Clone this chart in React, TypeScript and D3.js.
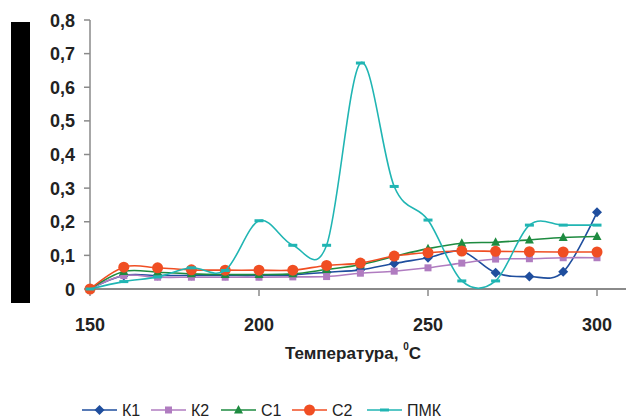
import React from "react";
import * as d3 from "d3";

const temps = [150, 160, 170, 180, 190, 200, 210, 220, 230, 240, 250, 260, 270, 280, 290, 300];
const k1 = [0, 0.04, 0.04, 0.04, 0.04, 0.04, 0.042, 0.05, 0.057, 0.076, 0.093, 0.112, 0.048, 0.037, 0.051, 0.228];
const k2 = [0, 0.04, 0.035, 0.035, 0.035, 0.035, 0.036, 0.037, 0.047, 0.053, 0.063, 0.077, 0.089, 0.09, 0.093, 0.093];
const c1 = [0, 0.052, 0.05, 0.045, 0.043, 0.043, 0.045, 0.058, 0.072, 0.097, 0.12, 0.136, 0.139, 0.146, 0.153, 0.156];
const c2 = [0, 0.065, 0.063, 0.057, 0.056, 0.056, 0.056, 0.07, 0.077, 0.098, 0.108, 0.113, 0.112, 0.111, 0.11, 0.11];
const pmk = [0, 0.022, 0.036, 0.063, 0.055, 0.203, 0.13, 0.13, 0.672, 0.305, 0.205, 0.024, 0.024, 0.19, 0.19, 0.19];

const seriesNames = ["К1", "К2", "С1", "С2", "ПМК"];
const seriesColors = ["#1F4E9E", "#B07CC0", "#1E8B40", "#F04E23", "#20B5B3"];
const seriesMarkers = ["diamond", "square", "triangle", "circle", "dash"];
const seriesValues = [k1, k2, c1, c2, pmk];

const yTicks = [0, 0.1, 0.2, 0.3, 0.4, 0.5, 0.6, 0.7, 0.8];
const xTicks = [150, 200, 250, 300];

const fmt = (v: number) => (v === 0 ? "0" : d3.format(".1f")(v).replace(".", ","));

function Marker({ kind, x, y, color }: { kind: string; x: number; y: number; color: string }) {
  if (kind === "diamond") {
    const s = 5;
    return <path d={`M${x},${y - s}L${x + s},${y}L${x},${y + s}L${x - s},${y}Z`} fill={color} />;
  }
  if (kind === "square") {
    return <rect x={x - 3.5} y={y - 3.5} width={7} height={7} fill={color} />;
  }
  if (kind === "triangle") {
    return <path d={`M${x},${y - 5}L${x + 4.5},${y + 3.5}L${x - 4.5},${y + 3.5}Z`} fill={color} />;
  }
  if (kind === "circle") {
    return <circle cx={x} cy={y} r={5.5} fill={color} />;
  }
  return <rect x={x - 4.5} y={y - 1.5} width={9} height={3} fill={color} />;
}

export default function App() {
  const x = d3.scaleLinear().domain([150, 300]).range([90, 597]);
  const y = d3.scaleLinear().domain([0, 0.8]).range([289, 20]);
  const line = d3
    .line<number>()
    .x((_, i) => x(temps[i]))
    .y((d) => y(d))
    .curve(d3.curveCardinal.tension(0));

  const axisColor = "#8A8A8A";
  const legendX = [82, 151, 221, 292, 367];
  const legendY = 410;

  return (
    <svg
      width={630}
      height={419}
      style={{ position: "absolute", left: 0, top: 0, background: "#fff" }}
      fontFamily="'Liberation Sans', Arial, sans-serif"
    >
      <rect x={0} y={0} width={630} height={419} fill="#fff" />
      <rect x={11} y={22} width={19} height={281} fill="#000" />

      {/* y axis */}
      <line x1={90} x2={90} y1={y(0.8)} y2={y(0)} stroke={axisColor} strokeWidth={1.5} />
      {yTicks.map((t) => (
        <g key={t}>
          <line x1={84} x2={90} y1={y(t)} y2={y(t)} stroke={axisColor} strokeWidth={1.5} />
          <text x={75} y={y(t) + 6.5} textAnchor="end" fontSize={18} fontWeight="bold" fill="#222">
            {fmt(t)}
          </text>
        </g>
      ))}

      {/* x axis */}
      <line x1={90} x2={626} y1={y(0)} y2={y(0)} stroke={axisColor} strokeWidth={2} />
      {xTicks.map((t) => (
        <g key={t}>
          <line x1={x(t)} x2={x(t)} y1={y(0)} y2={y(0) + 7} stroke={axisColor} strokeWidth={1.5} />
          <text x={x(t)} y={331} textAnchor="middle" fontSize={18} fontWeight="bold" fill="#222">
            {t}
          </text>
        </g>
      ))}
      <text x={353} y={359} textAnchor="middle" fontSize={17} fontWeight="bold" fill="#222">
        Температура,{" "}
        <tspan fontSize={10} dy={-9}>
          0
        </tspan>
        <tspan dy={9}>C</tspan>
      </text>

      {/* series */}
      {seriesValues.map((vals, si) => (
        <g key={seriesNames[si]}>
          <path d={line(vals) || ""} fill="none" stroke={seriesColors[si]} strokeWidth={1.6} />
          {vals.map((v, i) => (
            <Marker key={i} kind={seriesMarkers[si]} x={x(temps[i])} y={y(v)} color={seriesColors[si]} />
          ))}
        </g>
      ))}

      {/* legend */}
      {seriesNames.map((name, si) => (
        <g key={name}>
          <line
            x1={legendX[si]}
            x2={legendX[si] + 35}
            y1={legendY}
            y2={legendY}
            stroke={seriesColors[si]}
            strokeWidth={1.6}
          />
          <Marker kind={seriesMarkers[si]} x={legendX[si] + 17.5} y={legendY} color={seriesColors[si]} />
          <text x={legendX[si] + 40} y={legendY + 6} fontSize={16} fill="#222">
            {name}
          </text>
        </g>
      ))}
    </svg>
  );
}
